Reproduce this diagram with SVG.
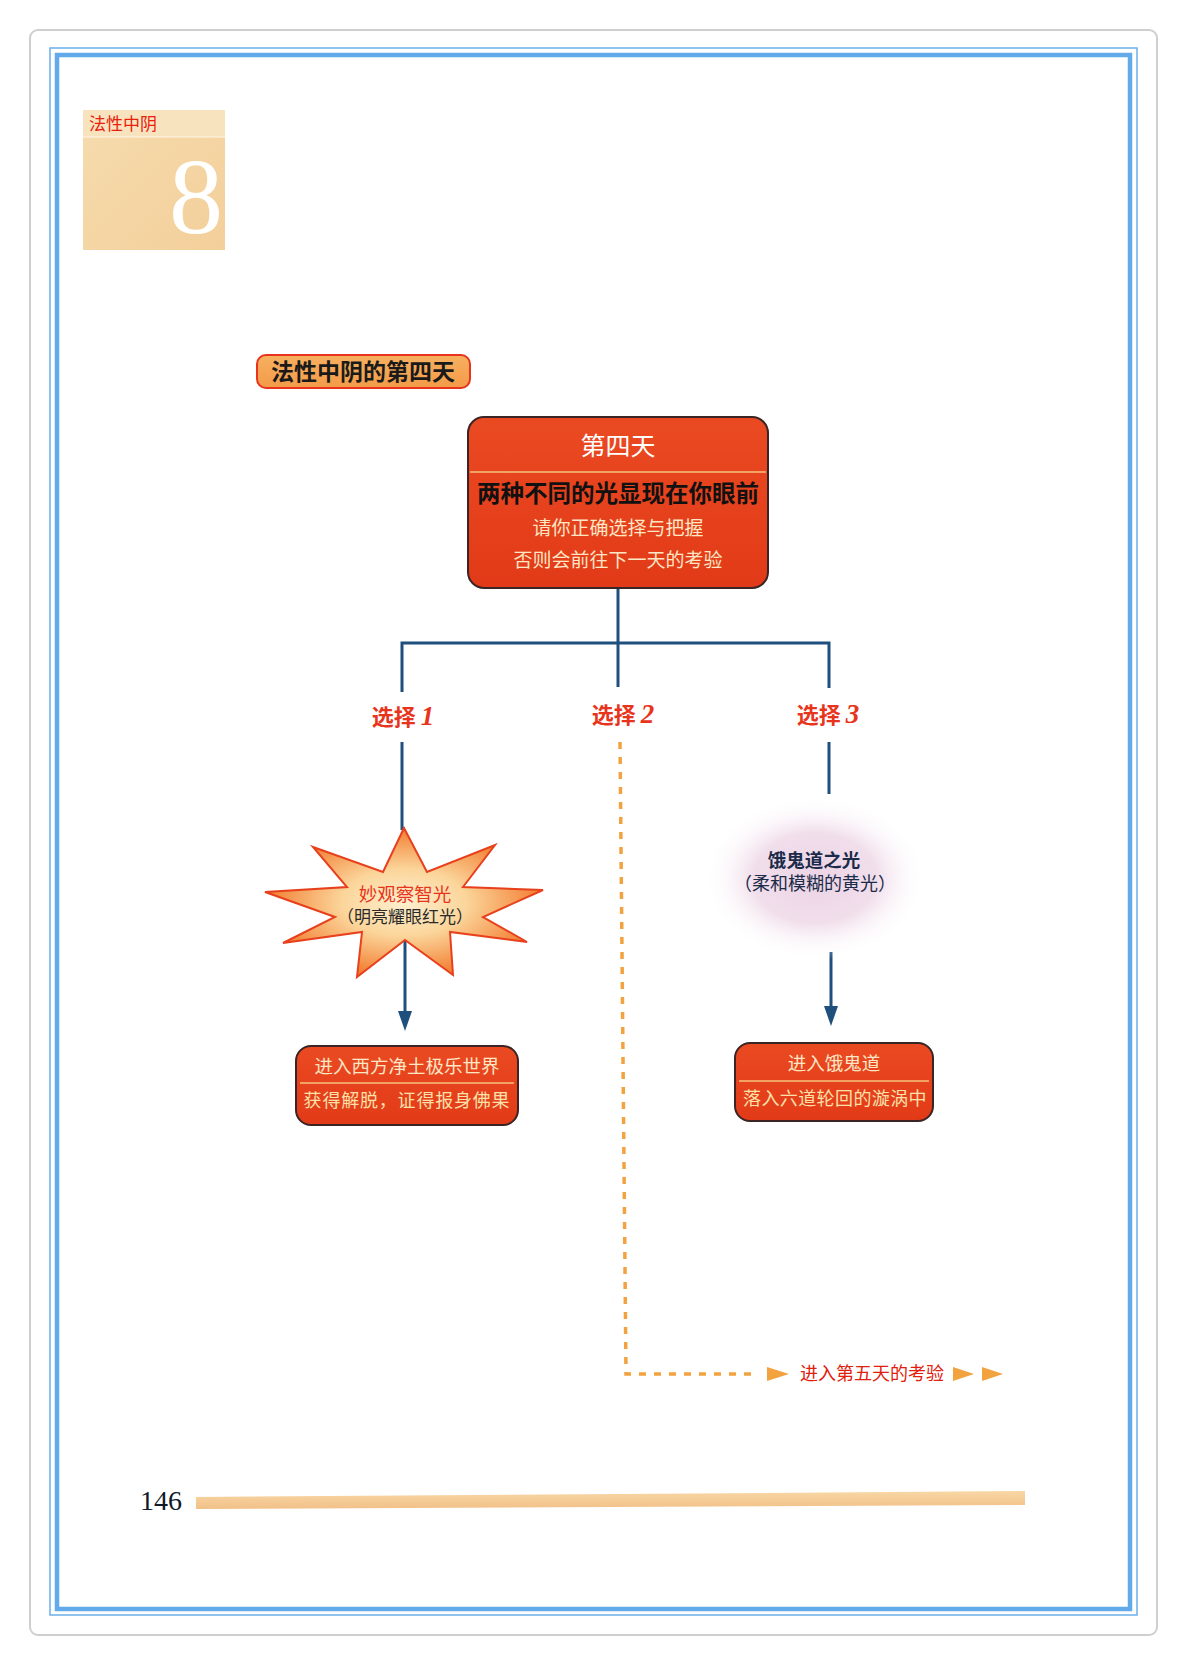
<svg xmlns="http://www.w3.org/2000/svg" width="1188" height="1665" viewBox="0 0 1188 1665">
  <style>
    .cjk { font-family: "Noto Sans CJK SC", "Noto Sans", sans-serif; }
    .conn { fill: none; stroke: #1f4f7c; stroke-width: 3; }
    .dash { fill: none; stroke: #f2a23e; stroke-width: 3.5; stroke-dasharray: 7 8; }
    .redbox { fill: url(#redGrad); stroke: #3b2424; stroke-width: 2; }
    .divider { stroke: #f7c27e; stroke-width: 1.5; }
    .label { font-size: 22px; font-weight: bold; fill: #e8341c; }
    .num { font-family: "Liberation Serif", serif; font-style: italic; font-weight: bold; font-size: 27px; }
    .cream { fill: #fde6c4; }
  </style>
  <defs>
    <linearGradient id="redGrad" x1="0" y1="0" x2="0" y2="1">
      <stop offset="0" stop-color="#ea4a22"/>
      <stop offset="1" stop-color="#e23a18"/>
    </linearGradient>
    <linearGradient id="tagGrad" x1="0" y1="0" x2="0" y2="1">
      <stop offset="0" stop-color="#f7b160"/>
      <stop offset="1" stop-color="#f39a48"/>
    </linearGradient>
    <linearGradient id="headGrad" x1="0" y1="0" x2="1" y2="1">
      <stop offset="0" stop-color="#f6dcae"/>
      <stop offset="1" stop-color="#f3cf9a"/>
    </linearGradient>
    <radialGradient id="starGrad" cx="0.5" cy="0.5" r="0.5">
      <stop offset="0" stop-color="#fdf0cf"/>
      <stop offset="0.45" stop-color="#fbd59a"/>
      <stop offset="1" stop-color="#f27c30"/>
    </radialGradient>
    <radialGradient id="glowGrad" cx="0.5" cy="0.5" r="0.5">
      <stop offset="0" stop-color="#ecd4e5"/>
      <stop offset="0.55" stop-color="#f1deeb"/>
      <stop offset="1" stop-color="#ffffff" stop-opacity="0"/>
    </radialGradient>
    <linearGradient id="barGrad" x1="0" y1="0" x2="0" y2="1">
      <stop offset="0" stop-color="#f8d7a4"/>
      <stop offset="1" stop-color="#f2c089"/>
    </linearGradient>
  </defs>

  <rect width="1188" height="1665" fill="#ffffff"/>

  <g id="page-frame">
    <rect x="30" y="30" width="1127" height="1605" rx="8" fill="#ffffff" stroke="#cfcfcf" stroke-width="2"/>
    <rect x="50" y="48" width="1087" height="1567" fill="none" stroke="#6ab0ec" stroke-width="1.5"/>
    <rect x="57" y="55" width="1073" height="1554" fill="none" stroke="#62aaea" stroke-width="4.5"/>
  </g>

  <g id="chapter-header">
    <rect x="83" y="110" width="142" height="140" fill="url(#headGrad)"/>
    <rect x="83" y="110" width="142" height="27" fill="#f8e3bf"/>
    <line x1="83" y1="137" x2="225" y2="137" stroke="#fff6e6" stroke-width="1"/>
    <text x="89" y="130" class="cjk" font-size="17" fill="#e8200c">法性中阴</text>
    <text x="196" y="233" font-family="Liberation Serif, serif" font-size="108" fill="#ffffff" text-anchor="middle">8</text>
  </g>

  <g id="title-tag">
    <rect x="257" y="355" width="213" height="33" rx="9" fill="url(#tagGrad)" stroke="#e8341c" stroke-width="2"/>
    <text x="363" y="380" class="cjk" font-size="23" font-weight="bold" fill="#1a1a1a" text-anchor="middle">法性中阴的第四天</text>
  </g>

  <g id="connectors">
    <path class="conn" d="M618,588 V643"/>
    <path class="conn" d="M402,692 V643 H829 V688"/>
    <path class="conn" d="M618,643 V687"/>
    <path class="conn" d="M402,742 V830"/>
    <path class="conn" d="M405,940 V1012"/>
    <polygon points="398,1011 412,1011 405,1031" fill="#1f4f7c"/>
    <path class="conn" d="M829,742 V794"/>
    <path class="conn" d="M831,952 V1007"/>
    <polygon points="824,1006 838,1006 831,1026" fill="#1f4f7c"/>
    <path class="dash" d="M620,742 L626,1374 L755,1374"/>
    <polygon points="767,1367 789,1374 767,1381" fill="#f2a23e"/>
  </g>

  <g id="day4-box">
    <rect class="redbox" x="468" y="417" width="300" height="171" rx="16"/>
    <line class="divider" x1="470" y1="472" x2="766" y2="472"/>
    <text x="618" y="455" class="cjk" font-size="25" fill="#ffffff" text-anchor="middle">第四天</text>
    <text x="618" y="502" class="cjk" font-size="23.5" font-weight="bold" fill="#111111" text-anchor="middle">两种不同的光显现在你眼前</text>
    <text x="618" y="535" class="cjk cream" font-size="19" text-anchor="middle">请你正确选择与把握</text>
    <text x="618" y="567" class="cjk cream" font-size="19" text-anchor="middle">否则会前往下一天的考验</text>
  </g>

  <g id="choice1-label">
    <text x="403" y="725" class="cjk label" text-anchor="middle">选择 <tspan class="num">1</tspan></text>
  </g>
  <g id="choice2-label">
    <text x="623" y="723" class="cjk label" text-anchor="middle">选择 <tspan class="num">2</tspan></text>
  </g>
  <g id="choice3-label">
    <text x="828" y="723" class="cjk label" text-anchor="middle">选择 <tspan class="num">3</tspan></text>
  </g>

  <g id="star-node">
    <polygon points="404,828 427,872 495,845 463,887 543,890 483,917 527,942 450,932 453,975 405,940 357,977 362,932 283,943 335,917 265,892 347,887 313,847 383,872" fill="url(#starGrad)" stroke="#e8401c" stroke-width="2" stroke-linejoin="miter"/>
    <text x="405" y="901" class="cjk" font-size="18.5" fill="#e8341c" text-anchor="middle">妙观察智光</text>
    <text x="405" y="923" class="cjk" font-size="17" fill="#2a2a2a" text-anchor="middle">（明亮耀眼红光）</text>
  </g>

  <g id="left-result">
    <rect class="redbox" x="296" y="1046" width="222" height="79" rx="15"/>
    <line class="divider" x1="300" y1="1083" x2="514" y2="1083"/>
    <text x="407" y="1073" class="cjk cream" font-size="18.5" text-anchor="middle">进入西方净土极乐世界</text>
    <text x="407" y="1107" class="cjk" font-size="18" letter-spacing="0.8" fill="#fbe0a8" text-anchor="middle">获得解脱，证得报身佛果</text>
  </g>

  <g id="hungry-ghost-light">
    <ellipse cx="815" cy="878" rx="112" ry="82" fill="url(#glowGrad)"/>
    <text x="814" y="867" class="cjk" font-size="18.5" font-weight="bold" fill="#1b2b4a" text-anchor="middle">饿鬼道之光</text>
    <text x="815" y="890" class="cjk" font-size="18" fill="#1b2b4a" text-anchor="middle">（柔和模糊的黄光）</text>
  </g>

  <g id="right-result">
    <rect class="redbox" x="735" y="1043" width="198" height="78" rx="15"/>
    <line class="divider" x1="739" y1="1081" x2="929" y2="1081"/>
    <text x="834" y="1070" class="cjk cream" font-size="18.5" text-anchor="middle">进入饿鬼道</text>
    <text x="835" y="1105" class="cjk" font-size="18" letter-spacing="0.4" fill="#fbe0a8" text-anchor="middle">落入六道轮回的漩涡中</text>
  </g>

  <g id="next-day">
    <text x="800" y="1380" class="cjk" font-size="18" fill="#e0200c">进入第五天的考验</text>
    <polygon points="953,1367 974,1374 953,1381" fill="#f2a23e"/>
    <polygon points="982,1367 1003,1374 982,1381" fill="#f2a23e"/>
  </g>

  <g id="page-footer">
    <text x="140" y="1510" font-family="Liberation Serif, serif" font-size="28" fill="#111a2a">146</text>
    <polygon points="196,1497 1025,1491 1025,1505 196,1509" fill="url(#barGrad)"/>
  </g>
</svg>
